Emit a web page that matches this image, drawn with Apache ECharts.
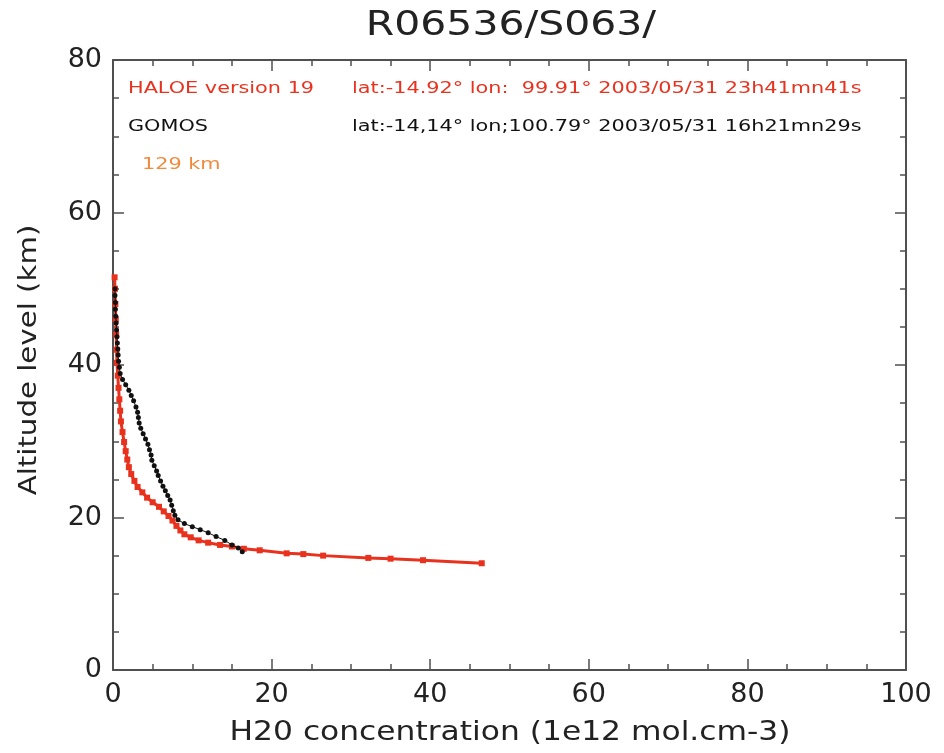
<!DOCTYPE html>
<html>
<head>
<meta charset="utf-8">
<script src="https://cdn.jsdelivr.net/npm/echarts@6/dist/echarts.min.js"></script>
<style>
  html, body { margin: 0; padding: 0; background: #fff; }
  #chart { width: 944px; height: 753px; }
</style>
</head>
<body>
<div id="chart"></div>
<script>
// HALOE profile: [concentration, altitude]
var haloe = [
  [46.5, 14.0], [39.1, 14.4], [35.0, 14.6], [32.2, 14.7], [26.5, 15.0], [24.0, 15.2],
  [21.9, 15.3], [18.5, 15.7], [16.5, 15.9], [15.0, 16.2], [13.5, 16.4], [12.0, 16.7],
  [10.8, 17.0], [9.8, 17.4], [9.0, 17.8], [8.5, 18.3], [8.0, 18.9], [7.5, 19.6],
  [7.0, 20.2], [6.4, 20.8], [5.8, 21.4], [5.0, 22.0], [4.3, 22.6], [3.7, 23.3],
  [3.1, 24.0], [2.7, 24.8], [2.3, 25.7], [2.0, 26.6], [1.8, 27.6], [1.6, 28.7],
  [1.4, 29.9], [1.2, 31.2], [1.0, 32.6], [0.9, 34.0], [0.8, 35.5], [0.7, 37.0],
  [0.6, 38.6], [0.5, 40.3], [0.45, 42.0], [0.4, 44.0], [0.35, 46.0], [0.3, 48.0],
  [0.25, 50.0], [0.2, 51.5]
];

// GOMOS profile: [concentration, altitude]
var gomos = [
  [16.3, 15.5], [15.8, 16.0], [15.0, 16.4], [14.1, 17.0], [13.0, 17.5], [12.0, 18.0],
  [11.0, 18.4], [10.0, 18.8], [9.0, 19.2], [8.2, 19.7], [7.8, 20.3], [7.6, 20.9],
  [7.4, 21.6], [7.2, 22.3], [6.9, 22.9], [6.6, 23.5], [6.3, 24.1], [6.0, 24.8],
  [5.7, 25.5], [5.5, 26.1], [5.2, 26.8], [4.9, 27.5], [4.8, 28.2], [4.6, 28.9],
  [4.4, 29.6], [4.1, 30.3], [3.8, 31.0], [3.5, 31.7], [3.3, 32.4], [3.2, 33.1],
  [3.1, 33.8], [2.9, 34.5], [2.6, 35.3], [2.3, 36.0], [2.0, 36.7], [1.6, 37.4],
  [1.2, 38.1], [0.9, 38.9], [0.8, 39.7], [0.7, 40.5], [0.65, 41.3], [0.6, 42.1],
  [0.55, 42.9], [0.5, 43.7], [0.45, 44.6], [0.4, 45.5], [0.35, 46.4], [0.3, 47.3],
  [0.3, 48.2], [0.25, 49.1], [0.25, 50.0]
];

var titleText = 'R06536/S063/';
var xName = 'H20 concentration (1e12 mol.cm-3)';
var yName = 'Altitude level (km)';
var noteNames = ['HALOE version 19', 'GOMOS', '129 km'];
var noteInfo = [
  'lat:-14.92\u00b0 lon:  99.91\u00b0 2003/05/31 23h41mn41s',
  'lat:-14,14\u00b0 lon;100.79\u00b0 2003/05/31 16h21mn29s',
  ''
];
var noteColors = ['#e8321e', '#111111', '#f08a3c'];

var font = 'DejaVu Sans, sans-serif';
var frame = '#505050';

function boxAxis(opts, labels) {
  var ax = {
    type: 'value',
    min: opts.min, max: opts.max, interval: 20,
    axisLine: { show: true, onZero: false, lineStyle: { color: frame, width: 2 } },
    axisTick: { show: true, inside: true, length: 11, lineStyle: { color: frame, width: 1.5 } },
    minorTick: { show: true, splitNumber: 4, length: 6, lineStyle: { color: frame, width: 1.5 } },
    splitLine: { show: false },
    axisLabel: { show: labels, color: '#222', fontSize: 27, fontFamily: font, margin: 11 }
  };
  for (var k in opts) ax[k] = opts[k];
  return ax;
}

// IDL's wide vector font is imitated by stretching the text horizontally
function wideText(str, x, y, size, color, stretch, align, rot) {
  return {
    type: 'text', x: x, y: y, scaleX: stretch, rotation: rot || 0,
    style: { text: str, fill: color, font: size + 'px ' + font, verticalAlign: 'middle', align: align }
  };
}

var chart = echarts.init(document.getElementById('chart'));
var option = {
  backgroundColor: '#fff',
  animation: false,
  grid: { left: 113, right: 38, top: 60, bottom: 83 },
  xAxis: [
    boxAxis({ min: 0, max: 100, position: 'bottom' }, true),
    boxAxis({ min: 0, max: 100, position: 'top' }, false)
  ],
  yAxis: [
    boxAxis({ min: 0, max: 80, position: 'left' }, true),
    boxAxis({ min: 0, max: 80, position: 'right' }, false)
  ],
  series: [
    {
      type: 'line', data: haloe, xAxisIndex: 0, yAxisIndex: 0,
      lineStyle: { color: '#e8321e', width: 3 },
      itemStyle: { color: '#e8321e' },
      symbol: 'rect', symbolSize: 6, z: 2
    },
    {
      type: 'line', data: gomos, xAxisIndex: 0, yAxisIndex: 0,
      lineStyle: { color: '#111', width: 1 },
      itemStyle: { color: '#111' },
      symbol: 'circle', symbolSize: 5, z: 3
    }
  ],
  graphic: [
    wideText(titleText, 511, 26, 33, '#222', 1.24, 'center'),
    wideText(xName, 510, 733, 27, '#222', 1.16, 'center'),
    wideText(yName, 29, 360, 25, '#222', 1.17, 'center', Math.PI / 2)
  ]
};

var rowY = [89, 127, 165];
var rowX = [128, 128, 142];
noteNames.forEach(function (name, i) {
  option.graphic.push(wideText(name, rowX[i], rowY[i], 16, noteColors[i], 1.3, 'left'));
  if (noteInfo[i]) {
    option.graphic.push(wideText(noteInfo[i], 352, rowY[i], 16, noteColors[i], 1.3, 'left'));
  }
});

chart.setOption(option);
</script>
</body>
</html>
